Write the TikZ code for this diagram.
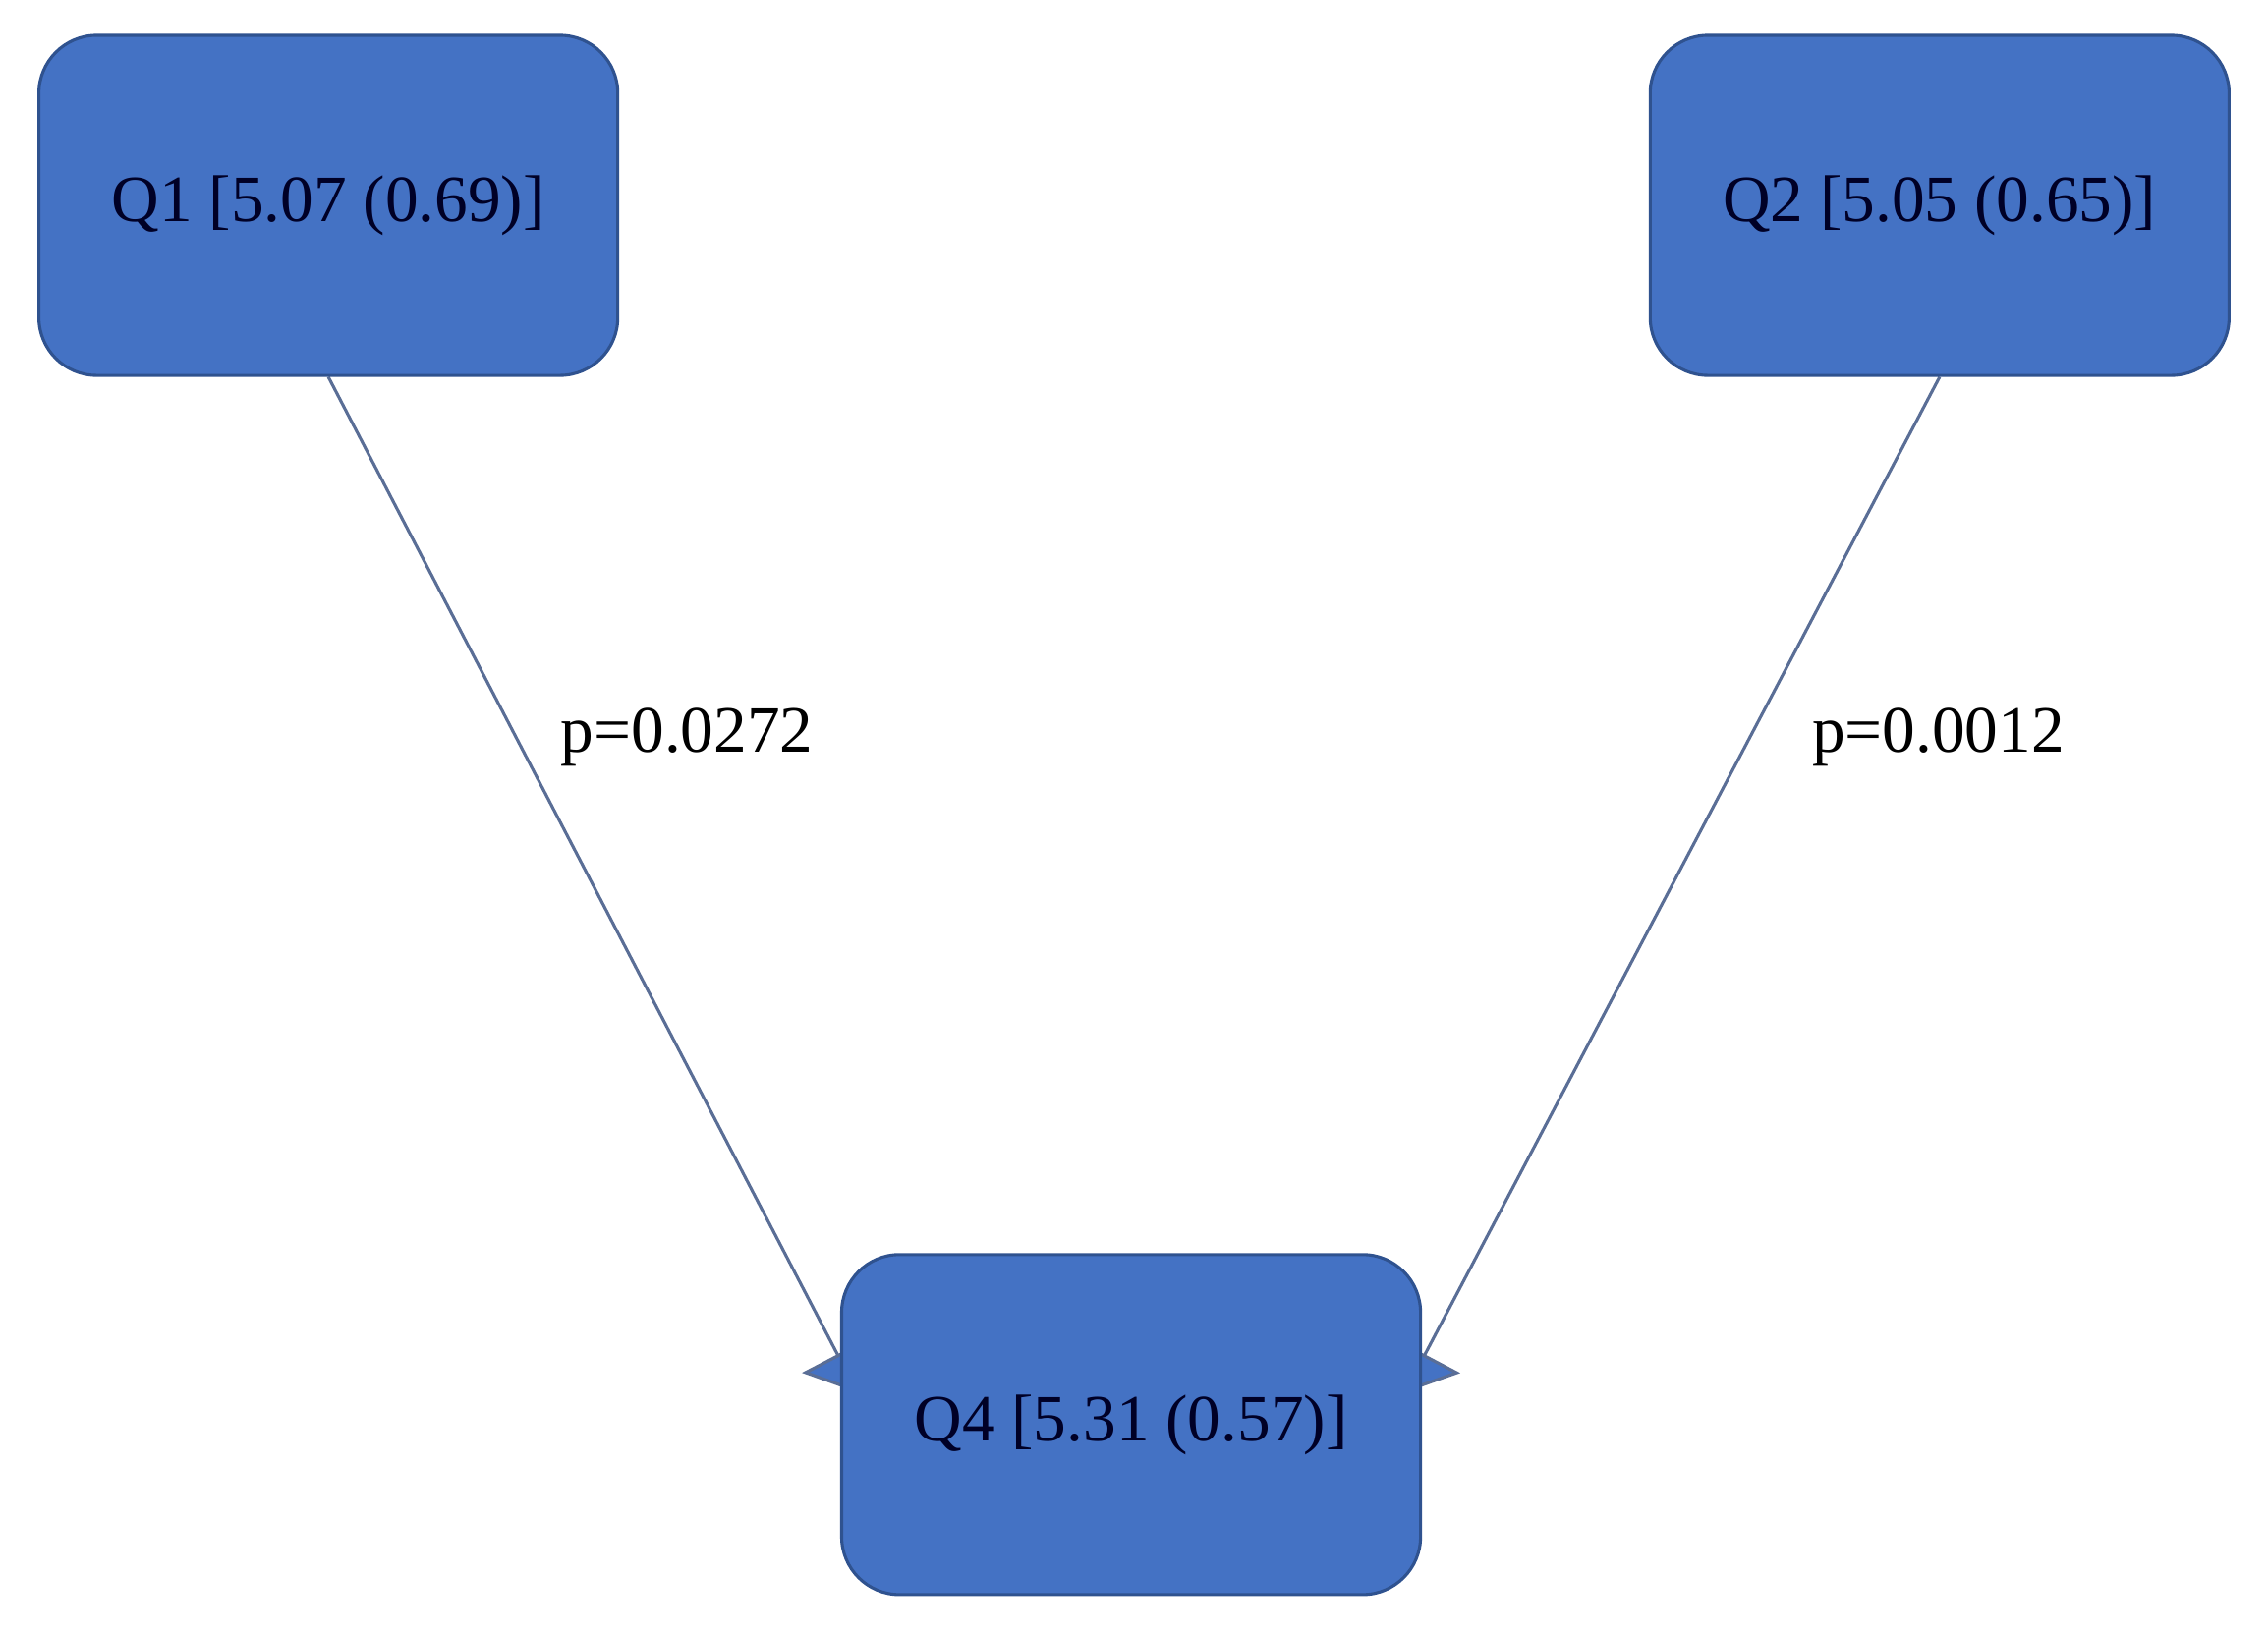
\documentclass[tikz,border=0pt]{standalone}
\usepackage{fontspec}
\setmainfont{Liberation Serif}
\usetikzlibrary{arrows.meta,calc,backgrounds}
\definecolor{boxfill}{HTML}{4472C4}
\definecolor{boxline}{HTML}{2F528F}
\definecolor{edge}{HTML}{5A6E96}
\begin{document}
\begin{tikzpicture}[x=0.01cm,y=-0.01cm,
  qbox/.style={draw=boxline,line width=0.6pt,fill=boxfill,rounded corners=0.4cm,minimum width=4cm,minimum height=2.35cm,font=\fontsize{13}{15}\selectfont,text=black!85!blue},
  conn/.style={draw=edge,line width=0.6pt,-{Triangle[length=0.3cm,width=0.55cm,fill=boxfill]}},
  plabel/.style={font=\fontsize{13}{15}\selectfont}]
\useasboundingbox (0,0) rectangle (1568,1130);
\node[qbox] (q1) at (227,142) {Q1 [5.07 (0.69)]};
\node[qbox] (q2) at (1341,142) {Q2 [5.05 (0.65)]};
\node[qbox] (q4) at (782,985) {Q4 [5.31 (0.57)]};
\begin{scope}[on background layer]
\draw[conn] (q1.south) -- ($(q4.west)+(12,-22)$) coordinate (e1);
\draw[conn] (q2.south) -- ($(q4.east)+(-12,-22)$) coordinate (e2);
\end{scope}
\node[plabel] (p1) at (475,510) {p=0.0272};
\node[plabel] (p2) at (1340,510) {p=0.0012};
\end{tikzpicture}
\end{document}
